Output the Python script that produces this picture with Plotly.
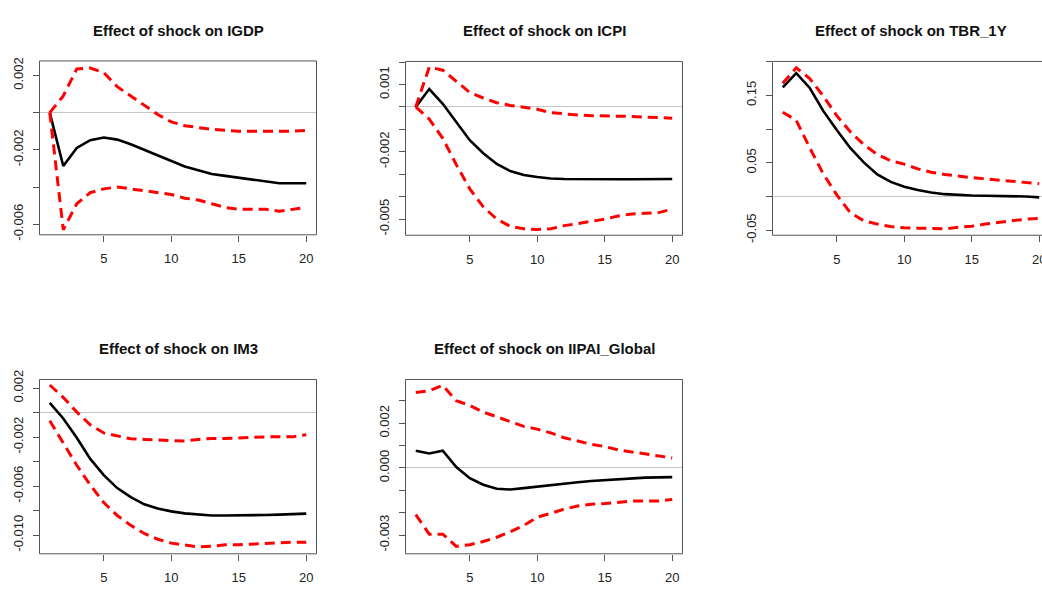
import plotly.graph_objects as go

W, H = 1042, 589
steps = list(range(1, 21))

titles = ["Effect of shock on IGDP", "Effect of shock on ICPI", "Effect of shock on TBR_1Y",
          "Effect of shock on IM3", "Effect of shock on IIPAI_Global"]

# IGDP
igdp_irf = [0.0, -0.00287, -0.0019, -0.00148, -0.00134, -0.00145, -0.0017, -0.002, -0.0023, -0.0026,
            -0.0029, -0.0031, -0.0033, -0.0034, -0.0035, -0.0036, -0.0037, -0.0038, -0.0038, -0.0038]
igdp_up = [0.0, 0.0009, 0.00235, 0.0024, 0.00215, 0.0014, 0.0009, 0.0004, -0.0001, -0.0005,
           -0.0007, -0.0008, -0.0009, -0.00095, -0.001, -0.001, -0.001, -0.001, -0.001, -0.00095]
igdp_lo = [0.0, -0.0063, -0.0049, -0.0043, -0.0041, -0.004, -0.0041, -0.0042, -0.0043, -0.0044,
           -0.0046, -0.0047, -0.0049, -0.0051, -0.0052, -0.0052, -0.0052, -0.0053, -0.0052, -0.0051]

# ICPI
icpi_irf = [0.0, 0.0008, 0.00014, -0.00068, -0.00148, -0.00206, -0.00254, -0.00286, -0.00303, -0.00312,
            -0.00319, -0.00321, -0.00322, -0.00322, -0.00322, -0.00322, -0.00322, -0.00321, -0.00321, -0.00321]
icpi_up = [0.0, 0.00178, 0.00164, 0.00113, 0.00065, 0.0004, 0.00019, 0.00007, -0.00003, -0.0001,
           -0.00025, -0.00032, -0.00036, -0.00039, -0.00039, -0.00041, -0.00042, -0.00045, -0.00049, -0.0005]
icpi_lo = [0.0, -0.00054, -0.0014, -0.00257, -0.00365, -0.00445, -0.005, -0.00532, -0.00543, -0.00546,
           -0.00543, -0.00529, -0.0052, -0.0051, -0.005, -0.00486, -0.00477, -0.00474, -0.00471, -0.00455]

# TBR_1Y
tbr_irf = [0.162, 0.183, 0.161, 0.127, 0.0986, 0.072, 0.0505, 0.0327, 0.0216, 0.0144,
           0.0096, 0.0058, 0.0034, 0.0019, 0.0014, 0.001, 0.001, 0.0005, 0.0, -0.0014]
tbr_up = [0.168, 0.191, 0.175, 0.149, 0.120, 0.096, 0.077, 0.0625, 0.053, 0.048,
          0.041, 0.036, 0.0327, 0.030, 0.028, 0.026, 0.0245, 0.023, 0.0216, 0.019]
tbr_lo = [0.125, 0.113, 0.072, 0.0337, 0.0024, -0.024, -0.036, -0.041, -0.0447, -0.0466,
          -0.047, -0.047, -0.048, -0.0457, -0.0442, -0.041, -0.0385, -0.036, -0.0337, -0.0327]

# IM3
im3_irf = [0.00079, -0.00048, -0.00206, -0.00378, -0.0051, -0.00616, -0.0069, -0.00748, -0.00782, -0.00806,
           -0.00822, -0.00832, -0.0084, -0.0084, -0.0084, -0.00838, -0.00835, -0.00832, -0.00827, -0.00824]
im3_up = [0.00225, 0.00124, 0.00005, -0.001, -0.00166, -0.00193, -0.00214, -0.00219, -0.00224, -0.00232,
          -0.00232, -0.00219, -0.00211, -0.00211, -0.00206, -0.00201, -0.00198, -0.00198, -0.00198, -0.0018]
im3_lo = [-0.00066, -0.00246, -0.0043, -0.0059, -0.00734, -0.0084, -0.0092, -0.00986, -0.01033, -0.01065,
          -0.01078, -0.01096, -0.0109, -0.01078, -0.01078, -0.01073, -0.01065, -0.01057, -0.01057, -0.01057]

# IIPAI_Global
iipai_irf = [0.00077, 0.00065, 0.00077, 0.00004, -0.00046, -0.00075, -0.00093, -0.00096, -0.0009, -0.00083,
             -0.00075, -0.0007, -0.00064, -0.00058, -0.00054, -0.00049, -0.00046, -0.00043, -0.00042, -0.00041]
iipai_up = [0.00338, 0.00345, 0.0037, 0.00301, 0.0028, 0.0025, 0.00229, 0.00207, 0.00186, 0.00174,
            0.00157, 0.00135, 0.0012, 0.00106, 0.00096, 0.00081, 0.00072, 0.00062, 0.00052, 0.00045]
iipai_lo = [-0.00209, -0.00296, -0.00296, -0.00351, -0.00343, -0.00329, -0.0031, -0.00286, -0.00257, -0.0022,
            -0.00203, -0.00184, -0.0017, -0.00162, -0.00159, -0.00152, -0.00148, -0.00148, -0.00148, -0.00141]

y_ranges = [[-0.00657, 0.00278], [-0.00572, 0.00203], [-0.0576, 0.2004], [-0.01152, 0.0027], [-0.00384, 0.00396]]
y_tickvals = [
    [0.002, 0.0, -0.002, -0.004, -0.006],
    [0.002, 0.001, 0.0, -0.001, -0.002, -0.003, -0.004, -0.005],
    [0.2, 0.15, 0.1, 0.05, 0.0, -0.05],
    [0.002, 0.0, -0.002, -0.004, -0.006, -0.008, -0.010],
    [0.003, 0.002, 0.001, 0.0, -0.001, -0.002, -0.003],
]
y_ticktext = [
    ["0.002", "", "-0.002", "", "-0.006"],
    ["", "0.001", "", "", "-0.002", "", "", "-0.005"],
    ["", "0.15", "", "0.05", "", "-0.05"],
    ["0.002", "", "-0.002", "", "-0.006", "", "-0.010"],
    ["", "0.002", "", "0.000", "", "", "-0.003"],
]
x_tickvals = [5, 10, 15, 20]
x_ticktext = ["5", "10", "15", "20"]

series = [
    (igdp_irf, igdp_up, igdp_lo),
    (icpi_irf, icpi_up, icpi_lo),
    (tbr_irf, tbr_up, tbr_lo),
    (im3_irf, im3_up, im3_lo),
    (iipai_irf, iipai_up, iipai_lo),
]

# boxes in pixels: left, right, top, bottom
boxes = [
    (39.5, 316.5, 53.5, 232.5),
    (405.5, 682.5, 54.0, 233.0),
    (772.5, 1049.5, 54.0, 233.0),
    (39.5, 316.5, 381.5, 561.0),
    (405.5, 682.5, 381.5, 561.0),
]
title_y = [22, 22, 22, 350, 350]

fig = go.Figure()
layout = dict(width=W, height=H, margin=dict(l=0, r=0, t=0, b=0),
              paper_bgcolor="white", plot_bgcolor="white", showlegend=False,
              font=dict(family="Liberation Sans, Arial, sans-serif", color="#222"))
shapes = []
annotations = []
frame = "#555555"

for i, ((irf, up, lo), (l, r, t, b)) in enumerate(zip(series, boxes)):
    n = i + 1
    xa = "x" if n == 1 else f"x{n}"
    ya = "y" if n == 1 else f"y{n}"
    xkey = "xaxis" if n == 1 else f"xaxis{n}"
    ykey = "yaxis" if n == 1 else f"yaxis{n}"
    rr = min(r, W)
    clipped = rr < r
    x_lo, x_hi = 0.24, 20.76
    x_hi_vis = x_lo + (x_hi - x_lo) * (rr - l) / (r - l)
    ttext = list(x_ticktext)
    if clipped:
        ttext[-1] = ""
        # label cut by the right edge of the picture, drawn as annotation so it is not nudged
        annotations.append(dict(text=x_ticktext[-1], xref=xa, yref="paper", x=x_tickvals[-1],
                                y=1 - (b + 25) / H, xanchor="center", yanchor="middle",
                                showarrow=False, font=dict(size=13, color="#222")))
    layout[xkey] = dict(domain=[l / W, rr / W], range=[x_lo, x_hi_vis], anchor=ya,
                        tickvals=x_tickvals, ticktext=ttext, ticks="outside", ticklen=6, tickcolor=frame,
                        showgrid=False, zeroline=False, showline=False,
                        ticklabelstandoff=6,
                        tickfont=dict(size=13, color="#222"))
    layout[ykey] = dict(domain=[1 - b / H, 1 - t / H], range=y_ranges[i], anchor=xa,
                        tickvals=y_tickvals[i], ticktext=y_ticktext[i], tickangle=-90,
                        ticks="outside", ticklen=6, tickcolor=frame,
                        showgrid=False, zeroline=True, zerolinecolor="#c4c4c4", zerolinewidth=1,
                        showline=False, ticklabelstandoff=4,
                        tickfont=dict(size=13, color="#222"))
    fig.add_trace(go.Scatter(x=steps, y=irf, mode="lines", xaxis=xa, yaxis=ya,
                             line=dict(color="black", width=2.6), hoverinfo="skip"))
    for band in (up, lo):
        fig.add_trace(go.Scatter(x=steps, y=band, mode="lines", xaxis=xa, yaxis=ya,
                                 line=dict(color="#ff0000", width=3, dash="10px,6px"), hoverinfo="skip"))
    shapes.append(dict(type="rect", xref="paper", yref="paper", x0=l / W, x1=r / W,
                       y0=1 - b / H, y1=1 - t / H, line=dict(color=frame, width=1), layer="above"))
    annotations.append(dict(text=f"<b>{titles[i]}</b>", xref="paper", yref="paper",
                            x=(l + r) / 2 / W, y=1 - title_y[i] / H,
                            xanchor="center", yanchor="middle", showarrow=False,
                            font=dict(size=15, color="#111")))

layout["shapes"] = shapes
layout["annotations"] = annotations
fig.update_layout(**layout)
fig.write_html("out.html")
